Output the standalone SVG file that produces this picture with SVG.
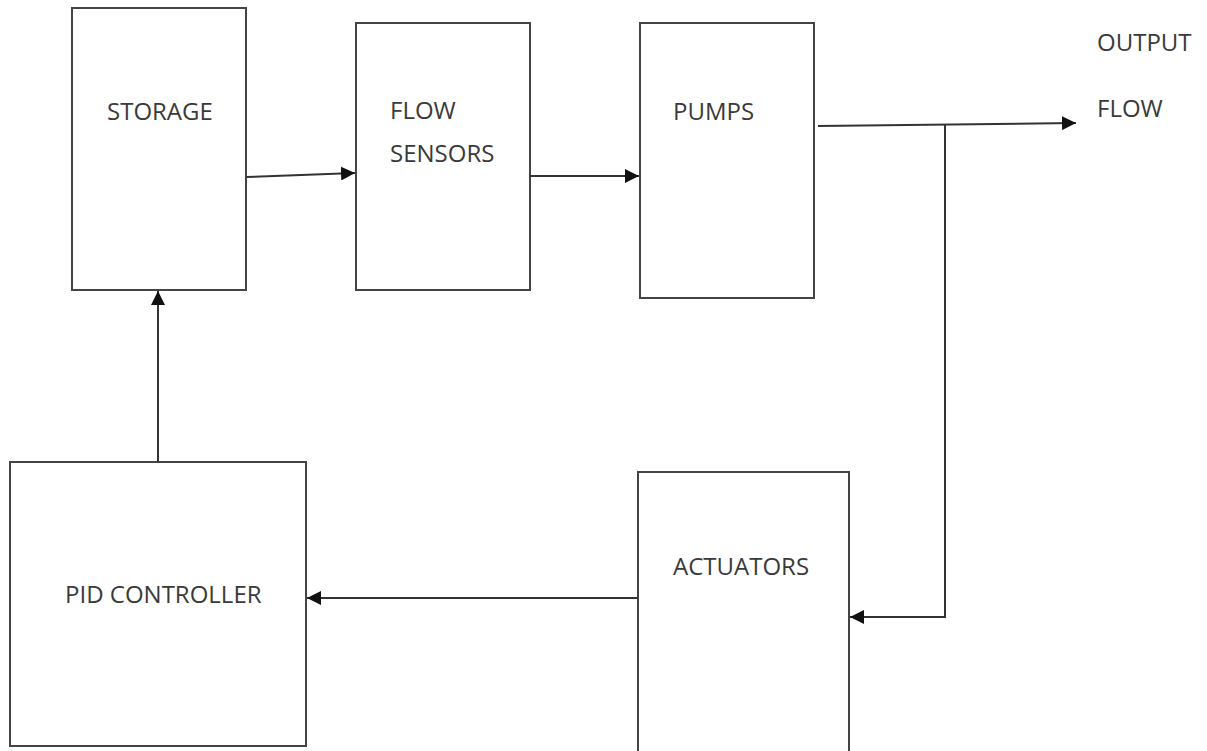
<svg xmlns="http://www.w3.org/2000/svg" width="1207" height="751" viewBox="0 0 1207 751">
<defs>
<style>
.box{fill:#fff;stroke:#444;stroke-width:2}
.lbl{font-family:"Open Sans","Liberation Sans",sans-serif;font-size:24px;fill:#3a3a3a}
.con{fill:none;stroke:#333;stroke-width:2}
</style>
<marker id="arr" viewBox="0 0 10 10" refX="10" refY="5" markerWidth="14" markerHeight="14" markerUnits="userSpaceOnUse" orient="auto">
<path d="M0,0 L10,5 L0,10 z" fill="#111"/>
</marker>
</defs>
<rect width="1207" height="751" fill="#fff"/>
<g id="storage"><rect class="box" x="72" y="8" width="174" height="282"/><text class="lbl" x="107" y="120">STORAGE</text></g>
<g id="flow-sensors"><rect class="box" x="356" y="23" width="174" height="267"/><text class="lbl" x="390" y="119">FLOW</text><text class="lbl" x="390" y="162">SENSORS</text></g>
<g id="pumps"><rect class="box" x="640" y="23" width="174" height="275"/><text class="lbl" x="673" y="120">PUMPS</text></g>
<g id="pid-controller"><rect class="box" x="10" y="462" width="296" height="284"/><text class="lbl" x="65" y="603">PID CONTROLLER</text></g>
<g id="actuators"><rect class="box" x="638" y="472" width="211" height="290"/><text class="lbl" x="673" y="575">ACTUATORS</text></g>
<g id="output-flow"><text class="lbl" x="1097" y="51">OUTPUT</text><text class="lbl" x="1097" y="117">FLOW</text></g>
<g id="connectors">
<line class="con" x1="246" y1="177" x2="355" y2="173" marker-end="url(#arr)"/>
<line class="con" x1="530" y1="176" x2="639" y2="176" marker-end="url(#arr)"/>
<line class="con" x1="818" y1="126" x2="1076" y2="123" marker-end="url(#arr)"/>
<polyline class="con" points="945,125 945,617 850,617" marker-end="url(#arr)"/>
<line class="con" x1="638" y1="598" x2="307" y2="598" marker-end="url(#arr)"/>
<line class="con" x1="158" y1="462" x2="158" y2="291" marker-end="url(#arr)"/>
</g>
</svg>
